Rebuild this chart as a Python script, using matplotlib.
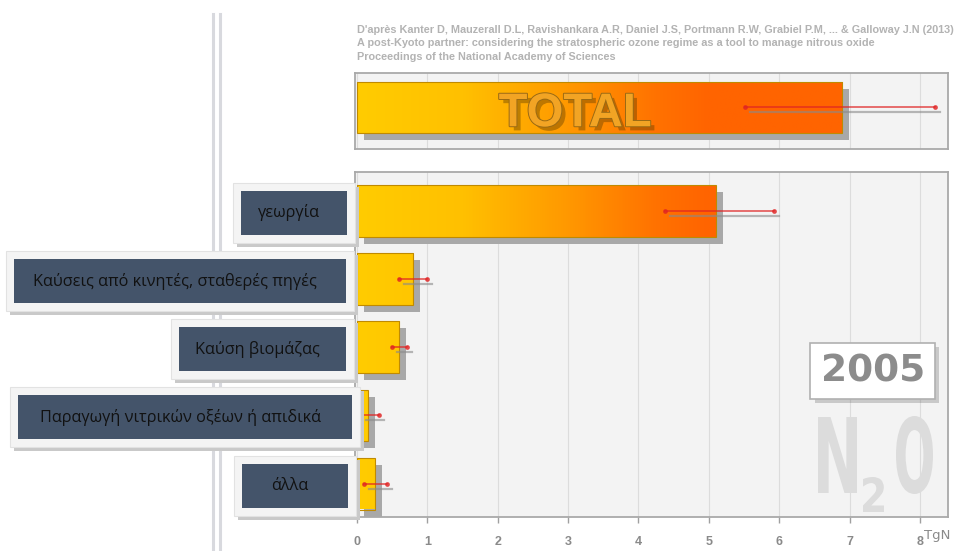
import numpy as np
import matplotlib
matplotlib.use('Agg')
import matplotlib.pyplot as plt
import matplotlib.patches as mpatches
import matplotlib.transforms as mtransforms
import matplotlib.patheffects as pe
from matplotlib.lines import Line2D
from matplotlib.colors import LinearSegmentedColormap
from matplotlib.textpath import TextPath
from matplotlib.font_manager import FontProperties

# N2O emissions by source, 2005 (TgN)
sources = ['γεωργία', 'Καύσεις από κινητές, σταθερές πηγές', 'Καύση βιομάζας',
           'Παραγωγή νιτρικών οξέων ή απιδικά', 'άλλα']
emissions = [5.1, 0.8, 0.6, 0.15, 0.25]
err_low = [4.37, 0.6, 0.5, 0.05, 0.1]
err_high = [5.92, 1.0, 0.71, 0.31, 0.42]

total = 6.9
total_low = 5.51
total_high = 8.21

year = '2005'
xticks = [0, 1, 2, 3, 4, 5, 6, 7, 8]
unit = 'TgN'
source_note = [
    "D'après Kanter D, Mauzerall D.L, Ravishankara A.R, Daniel J.S, Portmann R.W, "
    "Grabiel P.M, ... & Galloway J.N (2013)",
    "A post-Kyoto partner: considering the stratospheric ozone regime as a tool "
    "to manage nitrous oxide",
    "Proceedings of the National Academy of Sciences",
]

# label boxes (pixels): right edge and width of the light frame
box_right = [355, 354, 354, 360, 356]
box_width = [122, 348, 183, 350, 122]

W, H = 958, 551
XMIN, XMAX = -0.03, 8.4
BAR_H = 0.76

fig = plt.figure(figsize=(W / 100, H / 100), dpi=100)
fig.patch.set_facecolor('white')

# pixel coordinates measured from the top-left corner
px = mtransforms.Affine2D().scale(1, -1).translate(0, H).scale(1 / 100) + fig.dpi_scale_trans


def fx(x):
    return x / W


def fy(y):
    return 1 - y / H


ax = fig.add_axes([fx(355), fy(517), (948 - 355) / W, (517 - 172) / H])
ax_tot = fig.add_axes([fx(355), fy(149), (948 - 355) / W, (149 - 73) / H])

cmap = LinearSegmentedColormap.from_list(
    'n2o', [(0, '#ffcc00'), (0.3, '#ffc000'), (0.6, '#ff9800'),
            (0.85, '#ff7200'), (1, '#ff6400')])


def style_panel(a):
    a.set_facecolor('#f3f3f3')
    for s in a.spines.values():
        s.set_color('#a9a9a9')
        s.set_linewidth(1.3)
    a.set_xticks(xticks)
    a.grid(axis='x', color='#dcdcdc', lw=0.8)
    a.set_axisbelow(True)
    a.set_yticks([])


def gradient_bar(a, y, value, lo, hi):
    shadow_tr = mtransforms.offset_copy(a.transData, fig=fig, x=7, y=-7, units='dots')
    a.add_patch(mpatches.Rectangle((0, y - BAR_H / 2), value, BAR_H, transform=shadow_tr,
                                   facecolor='#a8a8a8', edgecolor='none', zorder=2))
    bar = a.barh(y, value, height=BAR_H, color='none', edgecolor='#c08a00',
                 lw=0.8, zorder=3.5)[0]
    img = a.imshow(np.linspace(0, XMAX, 400)[None, :], cmap=cmap, vmin=0, vmax=5,
                   extent=(0, XMAX, y + BAR_H / 2, y - BAR_H / 2),
                   aspect='auto', zorder=3, interpolation='bilinear')
    img.set_clip_path(bar)
    err_tr = mtransforms.offset_copy(a.transData, fig=fig, x=5, y=-5, units='dots')
    a.plot([lo, hi], [y, y], color='#8a8a8a', alpha=0.6, lw=1.6, transform=err_tr, zorder=4)
    a.plot([lo, hi], [y, y], color='#e02424', alpha=0.7, lw=1.3, marker='o', ms=2.5, zorder=5)


# lower panel: sources
style_panel(ax)
for i, (v, lo, hi) in enumerate(zip(emissions, err_low, err_high)):
    gradient_bar(ax, i, v, lo, hi)
ax.set_xlim(XMIN, XMAX)
ax.set_ylim(4.49, -0.57)
ax.tick_params(axis='x', length=4, color='#a0a0a0', labelsize=9,
               labelcolor='#8a8a8a', pad=10, width=1)
for lab in ax.get_xticklabels():
    lab.set_fontweight('bold')
    lab.set_family('Liberation Sans')
ax.text(8.06, -0.055, unit, transform=mtransforms.blended_transform_factory(ax.transData, ax.transAxes),
        fontsize=9.5, color='#8a8a8a', ha='left', va='center', family='Liberation Sans Narrow')

# top panel: total
style_panel(ax_tot)
gradient_bar(ax_tot, 0, total, total_low, total_high)
ax_tot.set_xlim(XMIN, XMAX)
ax_tot.set_ylim(0.61, -0.505)
ax_tot.tick_params(axis='x', length=0, labelbottom=False)
ax_tot.text(3.1, 0.1, 'TOTAL', fontsize=34, fontweight='bold', family='Liberation Sans',
            color='#f2a424', ha='center', va='center', zorder=6,
            path_effects=[pe.SimplePatchShadow(offset=(3, -3), shadow_rgbFace='#5a3a00', alpha=0.4),
                          pe.Stroke(linewidth=1.4, foreground='#9a6a14'), pe.Normal()])

# year badge
yb = ax.text(7.33, 0.423, year, transform=mtransforms.blended_transform_factory(ax.transData, ax.transAxes),
             fontsize=27, fontweight='bold', color='#8c8c8c', ha='center', va='center', zorder=6,
             bbox=dict(boxstyle='square,pad=0.27', facecolor='white', edgecolor='#b0b0b0', lw=1.2))
yb.get_bbox_patch().set_path_effects([pe.SimplePatchShadow(offset=(3, -3), alpha=0.25), pe.Normal()])

# N2O watermark, glyphs squeezed into their slots
narrow = FontProperties(family='Liberation Sans Narrow', weight='bold')
for ch, x0, x1, ytop, ybot in [('N', 818, 857, 417, 493), ('2', 863, 884, 477, 512),
                               ('O', 896, 933, 416, 494)]:
    tp = TextPath((0, 0), ch, size=100, prop=narrow)
    ext = tp.get_extents()
    tr = (mtransforms.Affine2D().translate(-ext.x0, -ext.y0)
          .scale((x1 - x0) / ext.width, (ybot - ytop) / ext.height)
          .translate(x0, H - ybot).scale(1 / 100) + fig.dpi_scale_trans)
    ax.add_patch(mpatches.PathPatch(tp, transform=tr, facecolor='#dcdcdc', edgecolor='none', zorder=1.5))

# category label boxes
for i, (name, r, w) in enumerate(zip(sources, box_right, box_width)):
    yc = H - ax.transData.transform((0, i))[1] + 2
    top = yc - 30
    fig.add_artist(mpatches.Rectangle((r - w + 4, top + 4), w, 60, transform=px,
                                      facecolor='#c9c9c9', edgecolor='none', zorder=2))
    fig.add_artist(mpatches.Rectangle((r - w, top), w, 60, transform=px,
                                      facecolor='#f4f4f4', edgecolor='#e2e2e2', lw=0.8, zorder=3))
    fig.add_artist(mpatches.Rectangle((r - w + 8, top + 8), w - 16, 44, transform=px,
                                      facecolor='#44546a', edgecolor='none', zorder=4))
    fig.text(fx(r - w / 2 - 5), fy(yc), name, fontsize=11.7, color='#111111', family='Open Sans',
             ha='center', va='center', zorder=5)

# double rule on the left
for x in (213, 220):
    fig.add_artist(Line2D([fx(x), fx(x)], [fy(14), 0], transform=fig.transFigure,
                          color='#d8d9de', lw=2.2, zorder=1))

# reference lines
for k, line in enumerate(source_note):
    fig.text(fx(357), fy(30 + 13.5 * k), line, fontsize=7.8, fontweight='bold',
             color='#b3b3b3', family='Liberation Sans', va='center', ha='left')

fig.savefig('out.png', dpi=100)
